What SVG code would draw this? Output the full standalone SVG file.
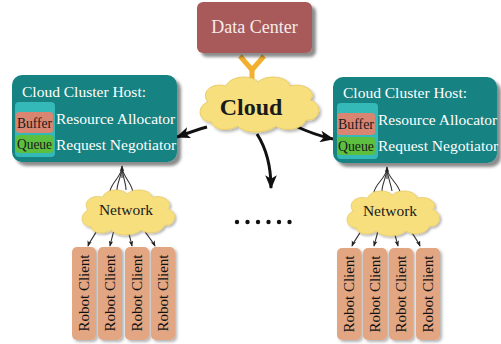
<svg xmlns="http://www.w3.org/2000/svg" width="501" height="344" viewBox="0 0 501 344">
<defs>
<filter id="sh" x="-20%" y="-20%" width="140%" height="140%"><feDropShadow dx="4" dy="4" stdDeviation="1.5" flood-color="#000" flood-opacity="0.45"/></filter>
<filter id="shs" x="-20%" y="-20%" width="140%" height="140%"><feDropShadow dx="2" dy="2" stdDeviation="1.5" flood-color="#000" flood-opacity="0.3"/></filter>
<path id="cloudShape" d="M -47,18 C -61,18 -63,2 -51,-2 C -59,-12 -47,-22 -33,-18 C -29,-28 -9,-30 -1,-22 C 7,-30 29,-28 31,-18 C 45,-22 59,-12 51,-4 C 65,0 61,18 47,16 C 43,26 25,28 17,22 C 7,30 -15,30 -21,22 C -31,28 -47,26 -47,18 Z"/>
<marker id="big" viewBox="0 0 12 10" refX="11" refY="5" markerWidth="14" markerHeight="12" markerUnits="userSpaceOnUse" orient="auto"><path d="M0,0 L12,5 L0,10 L3,5 Z" fill="#111"/></marker>
<marker id="small" viewBox="0 0 8 6" refX="7" refY="3" markerWidth="6" markerHeight="5" markerUnits="userSpaceOnUse" orient="auto"><path d="M0,0 L8,3 L0,6 L2,3 Z" fill="#222"/></marker>
</defs>
<style>
.serif{font-family:"Liberation Serif","Times New Roman",serif}
.host{fill:#138282}
.inner{fill:#35b8b8}
.buf{fill:#d88672}
.que{fill:#5dbf3f}
.wt{fill:#fff;font-size:15.5px}
.dk{fill:#1a1a1a;font-size:14px}
.cloud{fill:#f7df7e;stroke:#e8cc66;stroke-width:1}
.robot{fill:#e3a683}
.rt{fill:#111;font-size:15px}
.arrow{fill:none;stroke:#111;stroke-width:3}
.thin{fill:none;stroke:#333;stroke-width:1.1}
</style>

<g id="connectors">
<path d="M240,56 L252,70 L264,56 M252,66 L252,80" fill="none" stroke="#f2b02e" stroke-width="5" stroke-linejoin="miter"/>
<path class="arrow" d="M207,127 C196,130 188,133 177,137" marker-end="url(#big)"/>
<path class="arrow" d="M293,125 C306,131 318,136 333,139" marker-end="url(#big)"/>
<path class="arrow" d="M257,134 C266,148 271,165 271,188" marker-end="url(#big)"/>
<g id="fanLeft">
<path class="thin" d="M122,168 C120,178 112,182 110,191"/>
<path class="thin" d="M122,168 C121,178 117,183 117,190"/>
<path class="thin" d="M122,168 C123,178 126,183 126,190"/>
<path class="thin" d="M122,168 C124,178 131,182 133,192"/>
<path class="thin" d="M122,178 L122,166" marker-end="url(#small)"/>
<path class="thin" d="M98,228 C95,236 90,240 88,246" marker-end="url(#small)"/>
<path class="thin" d="M114,230 C112,238 111,241 110,246" marker-end="url(#small)"/>
<path class="thin" d="M128,230 C130,238 131,241 132,246" marker-end="url(#small)"/>
<path class="thin" d="M143,228 C147,236 152,240 155,246" marker-end="url(#small)"/>
</g>
<g id="fanRight">
<path class="thin" d="M387,169 C385,179 376,183 374,192"/>
<path class="thin" d="M387,169 C386,179 382,184 382,191"/>
<path class="thin" d="M387,169 C388,179 391,184 392,191"/>
<path class="thin" d="M387,169 C389,179 398,183 400,192"/>
<path class="thin" d="M387,179 L387,167" marker-end="url(#small)"/>
<path class="thin" d="M362,229 C358,237 354,241 352,246" marker-end="url(#small)"/>
<path class="thin" d="M378,231 C376,239 375,242 374,246" marker-end="url(#small)"/>
<path class="thin" d="M394,231 C396,239 397,242 398,246" marker-end="url(#small)"/>
<path class="thin" d="M410,229 C414,237 418,241 420,246" marker-end="url(#small)"/>
</g>
</g>

<g id="datacenter">
<rect x="197" y="2" width="115" height="51" rx="6" fill="#a85a5a" filter="url(#sh)"/>
<text class="serif" x="254.5" y="33" text-anchor="middle" font-size="18" fill="#f4ecec">Data Center</text>
</g>

<g id="cloud">
<use href="#cloudShape" class="cloud" transform="translate(259,104)" filter="url(#shs)"/>
<text class="serif" x="251" y="115" text-anchor="middle" font-size="24" font-weight="bold" fill="#1a1a1a">Cloud</text>
</g>

<g id="hostLeft">
<rect class="host" x="12" y="75" width="165" height="87" rx="10" filter="url(#sh)"/>
<text class="serif wt" x="22" y="97">Cloud Cluster Host:</text>
<rect class="inner" x="15" y="102" width="40" height="55" rx="4"/>
<rect class="buf" x="16" y="112" width="37" height="21" rx="3"/>
<rect class="que" x="16" y="135" width="37" height="18" rx="3"/>
<text class="serif dk" x="17" y="128" textLength="35" lengthAdjust="spacingAndGlyphs">Buffer</text>
<text class="serif dk" x="17" y="149" textLength="35" lengthAdjust="spacingAndGlyphs">Queue</text>
<text class="serif wt" x="56" y="124">Resource Allocator</text>
<text class="serif wt" x="56" y="150">Request Negotiator</text>
</g>

<g id="hostRight">
<rect class="host" x="333" y="77" width="164" height="86" rx="10" filter="url(#sh)"/>
<text class="serif wt" x="343" y="98">Cloud Cluster Host:</text>
<rect class="inner" x="337" y="103" width="41" height="56" rx="4"/>
<rect class="buf" x="337" y="113" width="38" height="22" rx="3"/>
<rect class="que" x="337" y="137" width="38" height="18" rx="3"/>
<text class="serif dk" x="338" y="129" textLength="36" lengthAdjust="spacingAndGlyphs">Buffer</text>
<text class="serif dk" x="338" y="151" textLength="36" lengthAdjust="spacingAndGlyphs">Queue</text>
<text class="serif wt" x="378" y="125">Resource Allocator</text>
<text class="serif wt" x="378" y="151">Request Negotiator</text>
</g>

<g id="networkLeft">
<use href="#cloudShape" class="cloud" transform="translate(128,212) scale(0.78,0.82)" filter="url(#shs)"/>
<text class="serif" x="126" y="215" text-anchor="middle" font-size="15.5" fill="#1a1a1a">Network</text>
</g>

<g id="networkRight">
<use href="#cloudShape" class="cloud" transform="translate(393,213) scale(0.78,0.82)" filter="url(#shs)"/>
<text class="serif" x="390" y="216" text-anchor="middle" font-size="15.5" fill="#1a1a1a">Network</text>
</g>

<g id="dots" fill="#111">
<circle cx="237" cy="222" r="2.2"/><circle cx="247.5" cy="222" r="2.2"/><circle cx="258" cy="222" r="2.2"/><circle cx="268.5" cy="222" r="2.2"/><circle cx="279" cy="222" r="2.2"/><circle cx="289.5" cy="222" r="2.2"/>
</g>

<g id="robotL1"><rect class="robot" x="72" y="247" width="24" height="93" rx="5" filter="url(#shs)"/><text class="serif rt" transform="translate(89,293) rotate(-90)" text-anchor="middle">Robot Client</text></g>
<g id="robotL2"><rect class="robot" x="98" y="247" width="24" height="93" rx="5" filter="url(#shs)"/><text class="serif rt" transform="translate(115,293) rotate(-90)" text-anchor="middle">Robot Client</text></g>
<g id="robotL3"><rect class="robot" x="125" y="247" width="24" height="93" rx="5" filter="url(#shs)"/><text class="serif rt" transform="translate(142,293) rotate(-90)" text-anchor="middle">Robot Client</text></g>
<g id="robotL4"><rect class="robot" x="151" y="247" width="24" height="93" rx="5" filter="url(#shs)"/><text class="serif rt" transform="translate(168,293) rotate(-90)" text-anchor="middle">Robot Client</text></g>

<g id="robotR1"><rect class="robot" x="337" y="248" width="24" height="92" rx="5" filter="url(#shs)"/><text class="serif rt" transform="translate(354,294) rotate(-90)" text-anchor="middle">Robot Client</text></g>
<g id="robotR2"><rect class="robot" x="363" y="248" width="24" height="92" rx="5" filter="url(#shs)"/><text class="serif rt" transform="translate(380,294) rotate(-90)" text-anchor="middle">Robot Client</text></g>
<g id="robotR3"><rect class="robot" x="389" y="248" width="24" height="92" rx="5" filter="url(#shs)"/><text class="serif rt" transform="translate(406,294) rotate(-90)" text-anchor="middle">Robot Client</text></g>
<g id="robotR4"><rect class="robot" x="416" y="248" width="24" height="92" rx="5" filter="url(#shs)"/><text class="serif rt" transform="translate(433,294) rotate(-90)" text-anchor="middle">Robot Client</text></g>
</svg>
